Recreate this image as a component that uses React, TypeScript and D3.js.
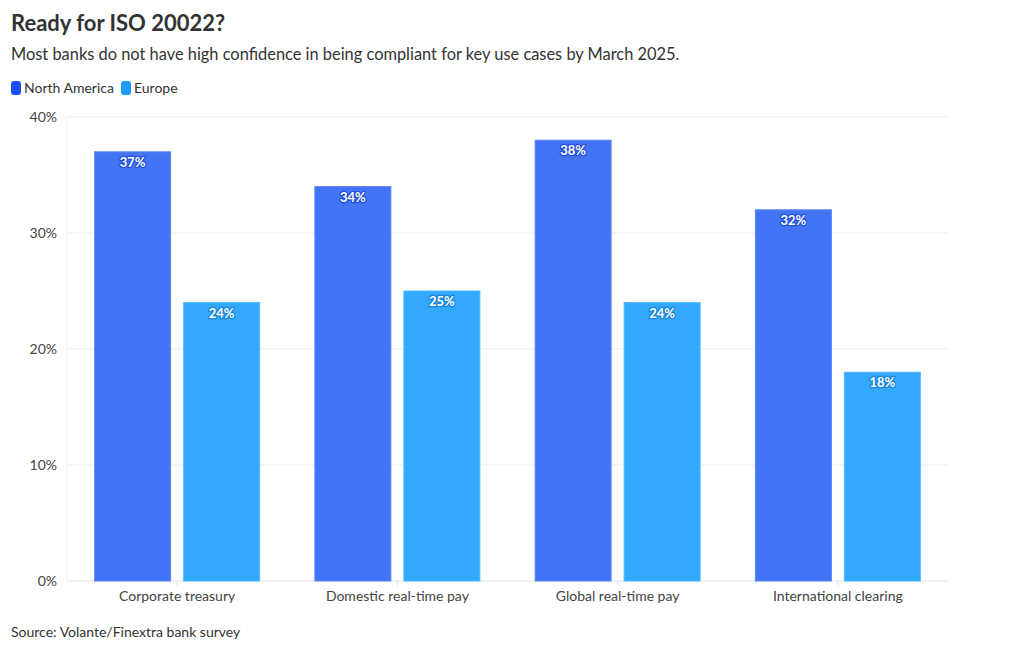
import React from "react";
import * as d3 from "d3";

const categories = ["Corporate treasury", "Domestic real-time pay", "Global real-time pay", "International clearing"];
const seriesNames = ["North America", "Europe"];
const northAmerica = [37, 34, 38, 32];
const europe = [24, 25, 24, 18];
const yTicks = [0, 10, 20, 30, 40];
const colors = ["#4374f5", "#33a9fd"];
const strokeColors = ["#5b87f7", "#55b8fd"];
const legendColors = ["#1f4ff0", "#1a9cf7"];
const haloColors = ["#2552d8", "#1a86d8"];

const W = 1020, H = 650;
const margin = { left: 67, right: 72, top: 117, bottom: 69 };

export default function App() {
  const x0 = d3.scaleBand<string>().domain(categories).range([margin.left, W - margin.right]).padding(0);
  const groupW = 165;
  const off = (x0.bandwidth() - groupW) / 2;
  const x1 = d3.scaleBand<string>().domain(seriesNames).range([off, off + groupW]).paddingInner(0.146);
  const y = d3.scaleLinear().domain([0, 40]).range([H - margin.bottom, margin.top]);
  const series = [northAmerica, europe];
  const font = "Lato, 'Open Sans', sans-serif";
  return (
    <svg width={W} height={H} style={{ position: "absolute", left: 0, top: 0, fontFamily: font }}>
      <rect width={W} height={H} fill="#fff" />
      <text x={11} y={31} fontSize={22} fontWeight={700} fill="#333">Ready for ISO 20022?</text>
      <text x={11} y={60} fontSize={16.4} fill="#333">Most banks do not have high confidence in being compliant for key use cases by March 2025.</text>
      {seriesNames.map((s, i) => {
        const lx = i === 0 ? 11 : 121;
        return (
          <g key={s}>
            <rect x={lx} y={81} width={10} height={14} rx={3} fill={legendColors[i]} />
            <text x={lx + 13} y={93} fontSize={14} fill="#333">{s}</text>
          </g>
        );
      })}
      {yTicks.map(t => (
        <g key={t}>
          <line x1={margin.left} x2={W - margin.right} y1={y(t)} y2={y(t)} stroke={t === 0 ? "#e3e3e3" : "#ededed"} />
          <text x={57} y={y(t) + 5} fontSize={14} textAnchor="end" fill="#444">{t}%</text>
        </g>
      ))}
      <line x1={margin.left} x2={margin.left} y1={margin.top} y2={y(0)} stroke="#efefef" />
      {categories.map((c, ci) => (
        <g key={c}>
          <line x1={x0(c)! + x0.bandwidth() / 2} x2={x0(c)! + x0.bandwidth() / 2} y1={y(0)} y2={y(0) + 5} stroke="#e3e3e3" />
          <text x={x0(c)! + x0.bandwidth() / 2} y={601} fontSize={14} textAnchor="middle" fill="#444">{c}</text>
          {series.map((vals, si) => {
            const bx = x0(c)! + x1(seriesNames[si])!;
            const bw = x1.bandwidth();
            return (
              <g key={si}>
                <rect x={bx} y={y(vals[ci])} width={bw} height={y(0) - y(vals[ci])} fill={colors[si]} stroke={strokeColors[si]} strokeWidth={1} />
                <text x={bx + bw / 2} y={y(vals[ci]) + 15} fontSize={13} fontWeight={700} textAnchor="middle" fill="#fff"
                  stroke={haloColors[si]} strokeWidth={2.5} strokeLinejoin="round" style={{ paintOrder: "stroke" }}>{vals[ci]}%</text>
              </g>
            );
          })}
        </g>
      ))}
      <text x={11} y={637} fontSize={14} fill="#333">Source: Volante/Finextra bank survey</text>
    </svg>
  );
}
